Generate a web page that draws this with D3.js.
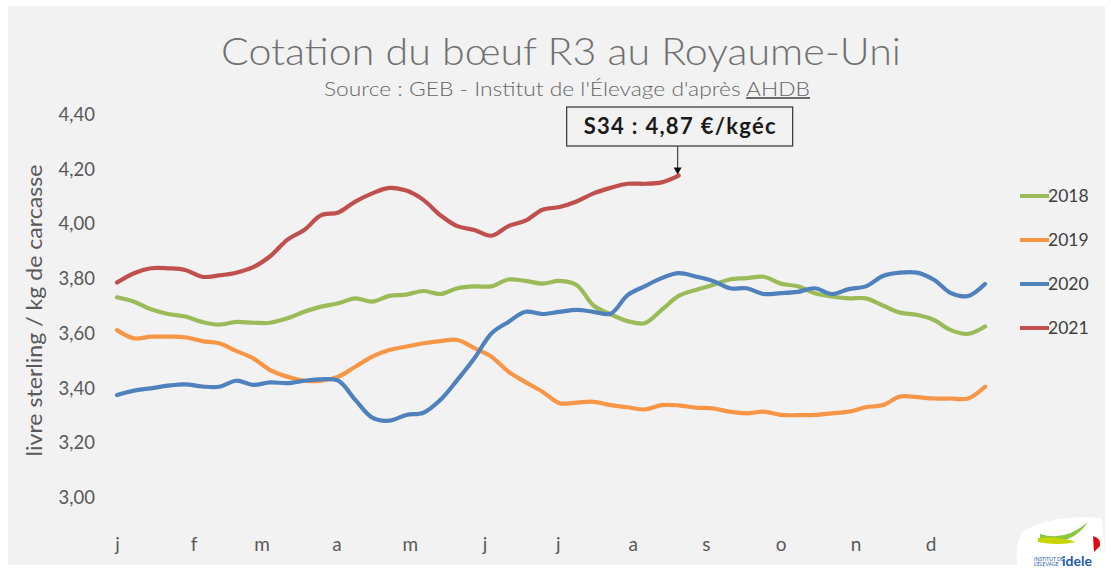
<!DOCTYPE html>
<html>
<head>
<meta charset="utf-8">
<script src="https://cdn.jsdelivr.net/npm/d3@7"></script>
<style>
    body { margin: 0; background: #ffffff; }
    svg { display: block; font-family: Lato, "Open Sans", sans-serif; }
</style>
</head>
<body>
<div id="graph"></div>
<script>
"use strict";

// weekly quotes, £ / kg carcass, weeks 1..52
const y2018 = [3.73, 3.714, 3.686, 3.669, 3.66, 3.64, 3.63, 3.64, 3.637, 3.637, 3.653, 3.677, 3.696,
    3.708, 3.726, 3.714, 3.735, 3.74, 3.753, 3.742, 3.763, 3.77, 3.77, 3.795, 3.79, 3.78, 3.79, 3.775,
    3.70, 3.668, 3.643, 3.635, 3.684, 3.735, 3.757, 3.775, 3.795, 3.80, 3.805, 3.78, 3.77, 3.745, 3.733,
    3.726, 3.726, 3.70, 3.674, 3.666, 3.647, 3.61, 3.596, 3.623];
const y2019 = [3.61, 3.58, 3.586, 3.586, 3.584, 3.57, 3.562, 3.534, 3.507, 3.464, 3.44, 3.425, 3.425,
    3.44, 3.476, 3.513, 3.537, 3.55, 3.562, 3.57, 3.574, 3.544, 3.513, 3.458, 3.42, 3.385, 3.343, 3.345,
    3.348, 3.336, 3.328, 3.32, 3.336, 3.335, 3.327, 3.324, 3.312, 3.306, 3.312, 3.30, 3.299, 3.30, 3.306,
    3.312, 3.328, 3.336, 3.367, 3.365, 3.36, 3.36, 3.36, 3.403];
const y2020 = [3.373, 3.389, 3.397, 3.407, 3.412, 3.404, 3.403, 3.425, 3.41, 3.419, 3.416, 3.425, 3.43,
    3.425, 3.355, 3.29, 3.279, 3.30, 3.308, 3.355, 3.428, 3.507, 3.598, 3.64, 3.677, 3.669, 3.677, 3.684,
    3.677, 3.67, 3.738, 3.77, 3.80, 3.818, 3.806, 3.79, 3.763, 3.763, 3.742, 3.745, 3.75, 3.763, 3.742,
    3.76, 3.77, 3.808, 3.82, 3.82, 3.794, 3.745, 3.735, 3.779];
const y2021 = [3.784, 3.818, 3.836, 3.836, 3.83, 3.805, 3.81, 3.82, 3.84, 3.88, 3.94, 3.976, 4.03, 4.04,
    4.08, 4.11, 4.13, 4.12, 4.086, 4.03, 3.99, 3.976, 3.955, 3.99, 4.01, 4.05, 4.06, 4.08, 4.11, 4.13,
    4.145, 4.145, 4.15, 4.175];

const seriesNames = ["2018", "2019", "2020", "2021"];
const seriesColors = ["#9bbb59", "#f79646", "#4f81bd", "#c0504d"];

const monthLabels = ["j", "f", "m", "a", "m", "j", "j", "a", "s", "o", "n", "d"];
const monthWeeks = [1, 5.5, 9.5, 13.9, 18.2, 22.6, 26.9, 31.3, 35.6, 40, 44.4, 48.8];
const yTicks = [3.0, 3.2, 3.4, 3.6, 3.8, 4.0, 4.2, 4.4];

const lastLabel = "S34 : 4,87 €/kgéc";

(function() {
    const W = 1111, H = 573;
    const plot = { left: 117, right: 985, top: 114, bottom: 497 };
    const grey = "#595959";

    const svg = d3.select("#graph").append("svg")
        .attr("width", W)
        .attr("height", H);

    // background
    svg.append("rect").attr("width", W).attr("height", H).attr("fill", "#ffffff");
    svg.append("rect")
        .attr("x", 8).attr("y", 6)
        .attr("width", W - 14).attr("height", H - 14)
        .attr("fill", "#f2f2f2");

    const x = d3.scaleLinear().domain([1, 52]).range([plot.left, plot.right]);
    const y = d3.scaleLinear().domain([3.0, 4.4]).range([plot.bottom, plot.top]);

    const comma = d3.formatLocale({ decimal: ",", thousands: " ", grouping: [3], currency: ["", "€"] });

    // title
    svg.append("text")
        .attr("x", 561).attr("y", 65)
        .attr("text-anchor", "middle")
        .attr("font-size", 37)
        .attr("font-weight", 300)
        .attr("fill", "#707070")
        .attr("textLength", 680)
        .attr("lengthAdjust", "spacingAndGlyphs")
        .text("Cotation du bœuf R3 au Royaume-Uni");

    const sub = svg.append("text")
        .attr("x", 567).attr("y", 96)
        .attr("text-anchor", "middle")
        .attr("font-size", 19.5)
        .attr("font-weight", 300)
        .attr("fill", "#666666")
        .attr("textLength", 486)
        .attr("lengthAdjust", "spacingAndGlyphs");
    sub.append("tspan").text("Source : GEB - Institut de l'Élevage d'après ");
    sub.append("tspan").attr("text-decoration", "underline").text("AHDB");

    // y axis
    const yAxis = svg.append("g")
        .attr("transform", "translate(" + (plot.left - 19) + ",0)")
        .call(d3.axisLeft(y).tickValues(yTicks).tickSize(0).tickFormat(comma.format(".2f")));
    yAxis.select(".domain").remove();
    yAxis.selectAll("text")
        .attr("font-size", 18.5)
        .attr("fill", grey)
        .attr("font-family", "Lato, sans-serif")
        .attr("dy", "0.35em");

    svg.append("text")
        .attr("transform", "translate(42," + ((plot.top + plot.bottom) / 2 + 5) + ") rotate(-90)")
        .attr("text-anchor", "middle")
        .attr("font-size", 20.5)
        .attr("fill", grey)
        .attr("textLength", 292)
        .attr("lengthAdjust", "spacingAndGlyphs")
        .text("livre sterling / kg de carcasse");

    // x axis
    const xAxis = svg.append("g")
        .attr("transform", "translate(0," + plot.bottom + ")")
        .call(d3.axisBottom(x).tickValues(monthWeeks).tickSize(0)
            .tickFormat((d, i) => monthLabels[i]));
    xAxis.select(".domain").remove();
    xAxis.selectAll("text")
        .attr("font-size", 19)
        .attr("fill", grey)
        .attr("font-family", "Lato, sans-serif")
        .attr("y", 54)
        .attr("dy", 0);

    // lines
    const line = d3.line()
        .x((d, i) => x(i + 1))
        .y(d => y(d))
        .curve(d3.curveCatmullRom.alpha(0.5));

    const allSeries = [y2018, y2019, y2020, y2021];
    svg.append("g").selectAll("path")
        .data(allSeries)
        .enter()
        .append("path")
            .attr("d", d => line(d))
            .attr("fill", "none")
            .attr("stroke", (d, i) => seriesColors[i])
            .attr("stroke-width", 4.2)
            .attr("stroke-linejoin", "round")
            .attr("stroke-linecap", "round");

    // callout for the last 2021 week
    const lastX = x(y2021.length);
    const lastY = y(y2021[y2021.length - 1]);
    svg.append("rect")
        .attr("x", lastX - 112).attr("y", 107)
        .attr("width", 226).attr("height", 39)
        .attr("fill", "#f2f2f2")
        .attr("stroke", "#404040")
        .attr("stroke-width", 1.3);
    svg.append("text")
        .attr("x", lastX + 1).attr("y", 134)
        .attr("text-anchor", "middle")
        .attr("font-size", 22)
        .attr("font-weight", "bold")
        .attr("fill", "#1a1a1a")
        .attr("textLength", 192)
        .attr("lengthAdjust", "spacing")
        .text(lastLabel);
    svg.append("line")
        .attr("x1", lastX - 1).attr("y1", 146)
        .attr("x2", lastX - 1).attr("y2", lastY - 6)
        .attr("stroke", "#404040")
        .attr("stroke-width", 1.2);
    svg.append("path")
        .attr("d", "M" + (lastX - 5) + "," + (lastY - 8) + "L" + (lastX + 3) + "," + (lastY - 8) +
            "L" + (lastX - 1) + "," + (lastY - 1) + "Z")
        .attr("fill", "#111");

    // legend
    const legend = svg.append("g").selectAll("g")
        .data(seriesNames)
        .enter()
        .append("g")
            .attr("transform", (d, i) => "translate(1020," + (196 + i * 44) + ")");
    legend.append("line")
        .attr("x1", 0).attr("x2", 29)
        .attr("stroke", (d, i) => seriesColors[i])
        .attr("stroke-width", 4);
    legend.append("text")
        .attr("x", 28).attr("dy", "0.35em")
        .attr("font-size", 17.5)
        .attr("fill", "#404040")
        .text(d => d);

    // idele logo, rough
    const logo = svg.append("g").attr("transform", "translate(1010,512)");
    logo.append("path")
        .attr("d", "M12,20 Q40,2 92,6 L96,58 L10,60 Q2,40 12,20 Z")
        .attr("fill", "#ffffff");
    logo.append("path")
        .attr("d", "M30,22 Q55,30 78,10 Q62,34 30,30 Z")
        .attr("fill", "#8cc63f");
    logo.append("path")
        .attr("d", "M28,26 Q50,24 66,30 Q48,34 28,30 Z")
        .attr("fill", "#c8d400");
    logo.append("path")
        .attr("d", "M83,24 Q91,26 90,34 L84,40 Z")
        .attr("fill", "#e30613");
    logo.append("text")
        .attr("x", 24).attr("y", 49)
        .attr("font-size", 5).attr("fill", "#1d5aa8")
        .text("INSTITUT DE");
    logo.append("text")
        .attr("x", 24).attr("y", 54)
        .attr("font-size", 5).attr("fill", "#1d5aa8")
        .text("L'ÉLEVAGE");
    logo.append("text")
        .attr("x", 52).attr("y", 54)
        .attr("font-size", 14).attr("font-weight", "bold")
        .attr("fill", "#1d5aa8")
        .text("idele");
})();
</script>
</body>
</html>
